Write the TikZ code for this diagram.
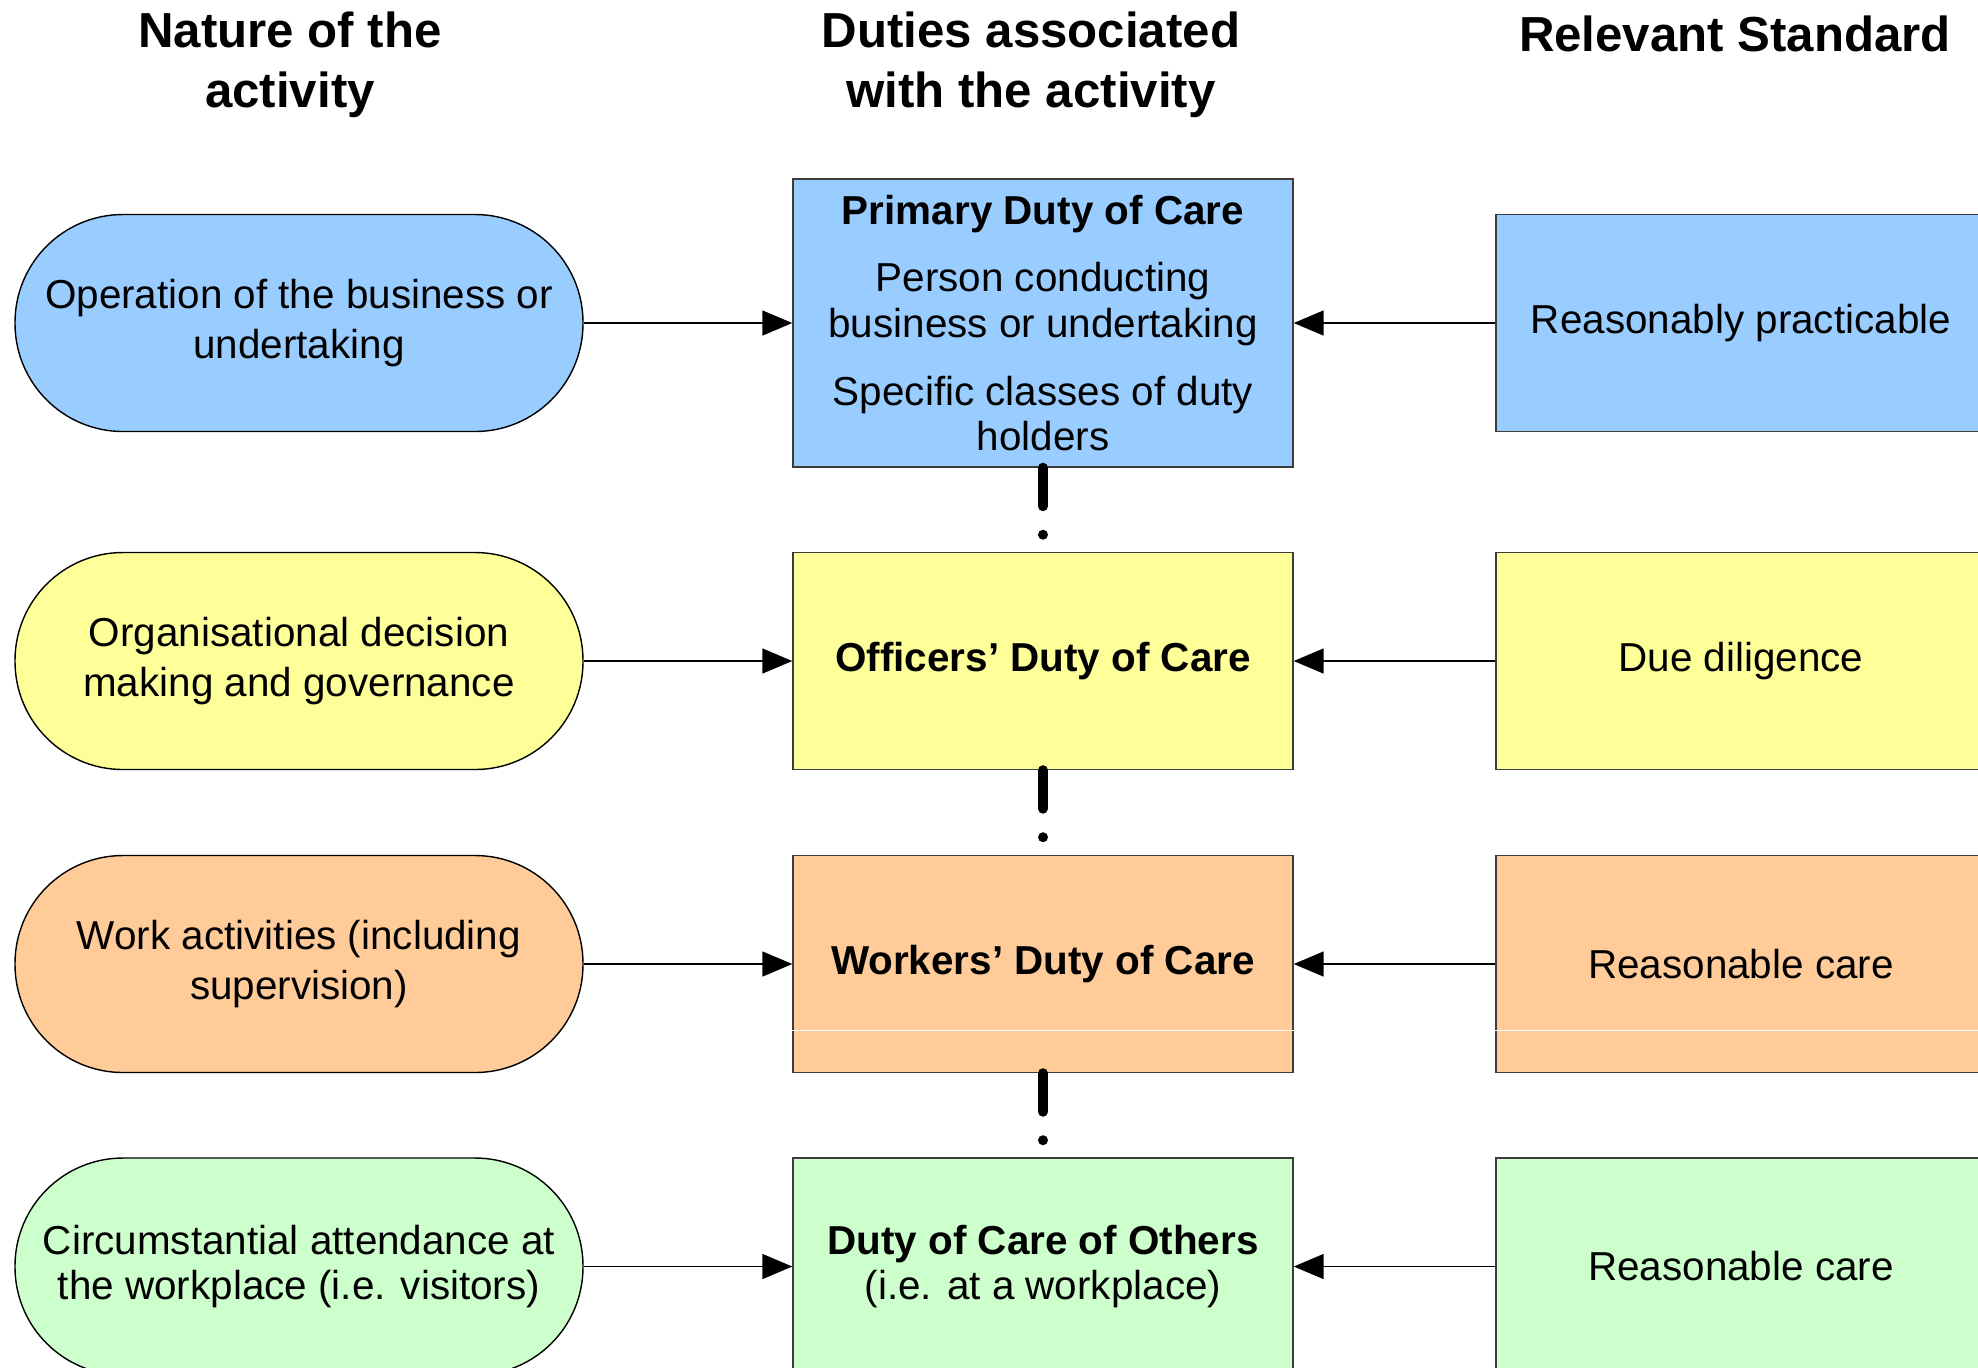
\documentclass[tikz,border=0pt]{standalone}
\usepackage{fontspec}
\setmainfont{Liberation Sans}
\usetikzlibrary{arrows.meta}
\definecolor{actblue}{HTML}{99CCFF}
\definecolor{actyellow}{HTML}{FFFF99}
\definecolor{actorange}{HTML}{FFCC99}
\definecolor{actgreen}{HTML}{CCFFCC}
\definecolor{edgegray}{HTML}{3C3C3C}
\begin{document}
\begin{tikzpicture}[
  activity/.style={draw=black, line width=0.4pt, rounded corners=1.08cm, minimum width=5.68cm, minimum height=2.17cm, align=center, font=\fontsize{11.5}{14.2}\selectfont},
  duty/.style={draw=edgegray, line width=0.4pt, minimum width=5cm, minimum height=2.17cm, align=center, font=\fontsize{11.5}{13}\selectfont},
  standard/.style={duty, minimum width=4.9cm},
  header/.style={align=center, font=\fontsize{14}{17.2}\selectfont\bfseries},
  feed/.style={line width=0.45pt, -{Triangle[length=0.3cm,width=0.25cm]}},
  dutylink/.style={line width=0.1cm, line cap=round, dash pattern=on 0.385cm off 0.285cm on 0cm off 5cm}
]
%\draw[step=1cm,gray,very thin] (0,0) grid (20,-14);
\useasboundingbox (0,0) rectangle (19.78,-13.67);
\clip (0,0) rectangle (19.78,-13.67);
\node[header] (hdrnature) at (2.90,-0.645) {Nature of the\\activity};
\node[header] (hdrduties) at (10.31,-0.645) {Duties associated\\with the activity};
\node[header] (hdrstandard) at (17.35,-0.34) {Relevant Standard};
% primary duty
\node[activity, fill=actblue] (actbusiness) at (2.99,-3.23) {Operation of the business or\\undertaking};
\node[duty, fill=actblue, minimum height=2.88cm] (dutyprimary) at (10.43,-3.23) {\textbf{Primary Duty of Care}\\[0.22cm]Person conducting\\business or undertaking\\[0.22cm]Specific classes of duty\\holders};
\node[standard, fill=actblue] (stdpracticable) at (17.41,-3.23) {Reasonably practicable};
% officers
\node[activity, fill=actyellow] (actgovern) at (2.99,-6.61) {Organisational decision\\making and governance};
\node[duty, fill=actyellow] (dutyofficers) at (10.43,-6.61) {\textbf{Officers’ Duty of Care}};
\node[standard, fill=actyellow] (stddiligence) at (17.41,-6.61) {Due diligence};
% workers
\node[activity, fill=actorange] (actwork) at (2.99,-9.64) {Work activities (including\\supervision)};
\node[duty, fill=actorange] (dutyworkers) at (10.43,-9.64) {\textbf{Workers’ Duty of Care}};
\node[standard, fill=actorange] (stdcare) at (17.41,-9.64) {Reasonable care};
\draw[white, line width=0.3pt] ([yshift=0.43cm]dutyworkers.south west) -- ([yshift=0.43cm]dutyworkers.south east);
\draw[white, line width=0.3pt] ([yshift=0.43cm]stdcare.south west) -- ([yshift=0.43cm]stdcare.south east);
% others
\node[activity, fill=actgreen, font=\fontsize{11.5}{13}\selectfont] (actvisit) at (2.99,-12.665) {Circumstantial attendance at\\the workplace (i.e. visitors)};
\node[duty, fill=actgreen] (dutyothers) at (10.43,-12.665) {\textbf{Duty of Care of Others}\\(i.e. at a workplace)};
\node[standard, fill=actgreen] (stdothers) at (17.41,-12.665) {Reasonable care};
% arrows
\draw[feed] (actbusiness) -- (dutyprimary);
\draw[feed] (stdpracticable) -- (dutyprimary);
\draw[feed] (actgovern) -- (dutyofficers);
\draw[feed] (stddiligence) -- (dutyofficers);
\draw[feed] (actwork) -- (dutyworkers);
\draw[feed] (stdcare) -- (dutyworkers);
\draw[feed] (actvisit) -- (dutyothers);
\draw[feed] (stdothers) -- (dutyothers);
% links between duties
\draw[dutylink] (dutyprimary.south) -- (dutyofficers.north);
\draw[dutylink] (dutyofficers.south) -- (dutyworkers.north);
\draw[dutylink] (dutyworkers.south) -- (dutyothers.north);
\end{tikzpicture}
\end{document}
